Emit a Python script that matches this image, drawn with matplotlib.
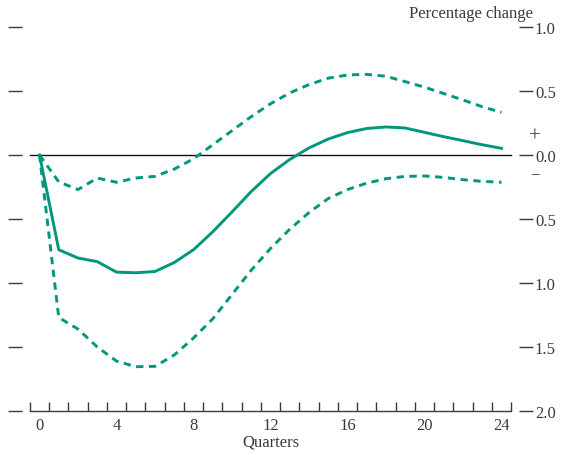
import matplotlib
matplotlib.use("Agg")
import matplotlib.pyplot as plt
import numpy as np

quarters = list(range(25))
central = [0.0, -0.74, -0.805, -0.833, -0.915, -0.92, -0.91, -0.84, -0.74, -0.60, -0.445,
           -0.285, -0.145, -0.035, 0.055, 0.125, 0.175, 0.207, 0.219, 0.211, 0.177, 0.143,
           0.112, 0.08, 0.052]
upper = [0.0, -0.21, -0.27, -0.18, -0.213, -0.18, -0.167, -0.11, -0.03, 0.08, 0.19,
         0.30, 0.40, 0.485, 0.55, 0.60, 0.625, 0.63, 0.615, 0.573, 0.53, 0.48,
         0.43, 0.377, 0.333]
lower = [0.0, -1.27, -1.36, -1.50, -1.61, -1.654, -1.651, -1.5625, -1.43, -1.28, -1.09,
         -0.90, -0.73, -0.58, -0.45, -0.34, -0.27, -0.22, -0.185, -0.167, -0.164, -0.175,
         -0.193, -0.206, -0.213]
xtick_vals = [0, 4, 8, 12, 16, 20, 24]
ytick_vals = [-2.0, -1.5, -1.0, -0.5, 0.0, 0.5, 1.0]
ytick_labels = ["2.0", "1.5", "1.0", "0.5", "0.0", "0.5", "1.0"]

plt.rcParams['font.family'] = ['Liberation Serif', 'DejaVu Serif']
FS = 12
teal = "#00977d"
tc = "#3a3a3a"

fig = plt.figure(figsize=(5.69, 4.56), dpi=100)
W, H = 569, 456
ax = fig.add_axes([22 / W, (H - 412) / H, (519 - 22) / W, (412 - 28) / H])

ax.plot([-0.5, 24.5], [0, 0], color="#111111", lw=1.0, zorder=2)
ax.plot(quarters, upper, color=teal, lw=2.1, ls=(0, (2.5, 1.9)), zorder=3)
ax.plot(quarters, lower, color=teal, lw=2.1, ls=(0, (2.5, 1.9)), zorder=3)
ax.plot(quarters, central, color=teal, lw=2.1, zorder=4)

ax.set_xlim(-0.91, 24.91)
ax.set_ylim(-2.0, 1.0)

for s in ["top", "left", "right"]:
    ax.spines[s].set_visible(False)
ax.spines["bottom"].set_bounds(-0.5, 24.5)
ax.spines["bottom"].set_color(tc)
ax.spines["bottom"].set_linewidth(1.0)

ax.set_xticks(xtick_vals)
ax.set_xticklabels([str(v) for v in xtick_vals], fontsize=FS, color=tc)
ax.tick_params(axis="x", which="major", length=0, pad=4)
ax.set_xticks(np.arange(-0.5, 25, 1.0), minor=True)
ax.tick_params(axis="x", which="minor", direction="in", length=6.5, width=1.0, color=tc)

ax.set_yticks(ytick_vals)
ax.set_yticklabels(ytick_labels, fontsize=FS, color=tc)
ax.tick_params(axis="y", which="both", left=True, right=True, labelleft=False,
               labelright=True, direction="out", length=10, width=1.0, color=tc, pad=1.5)

ax.set_xlabel("Quarters", fontsize=FS, color=tc, labelpad=1)
fig.text(533 / W, (H - 14) / H, "Percentage change", ha="right", va="center",
         fontsize=FS, color=tc)
fig.text(535 / W, (H - 137) / H, "+", ha="center", va="center", fontsize=FS + 3, color=tc)
fig.text(535 / W, (H - 175) / H, "\u2212", ha="center", va="center", fontsize=FS, color=tc)

fig.savefig("out.png", dpi=100)
